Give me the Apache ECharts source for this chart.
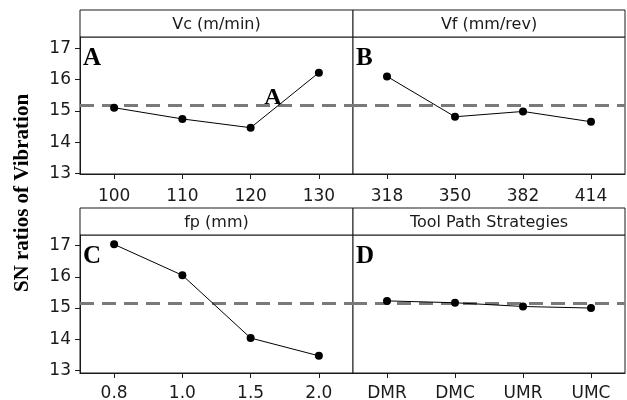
<!DOCTYPE html>
<html>
<head>
<meta charset="utf-8">
<script src="https://cdn.jsdelivr.net/npm/echarts@6/dist/echarts.min.js"></script>
<style>html,body{margin:0;padding:0;background:#fff}#c{width:627px;height:400px}</style>
</head>
<body>
<div id="c"></div>
<script>
// ---- data ----
const panelTitles = ['Vc (m/min)', 'Vf (mm/rev)', 'fp (mm)', 'Tool Path Strategies'];
const panelLetters = ['A', 'B', 'C', 'D'];
const vcLevels = ['100', '110', '120', '130'];
const vfLevels = ['318', '350', '382', '414'];
const fpLevels = ['0.8', '1.0', '1.5', '2.0'];
const tpsLevels = ['DMR', 'DMC', 'UMR', 'UMC'];
const snVc = [15.10, 14.74, 14.46, 16.22];
const snVf = [16.10, 14.81, 14.98, 14.65];
const snFp = [17.04, 16.05, 14.04, 13.47];
const snTps = [15.23, 15.17, 15.05, 15.00];
const overallMean = 15.17;
const yTicks = [13, 14, 15, 16, 17];
const yAxisTitle = 'SN ratios of Vibration';
const extraLabel = 'A';

// ---- layout ----
const FONT = 'DejaVu Sans';
const SERIF = 'Liberation Serif';
const INK = '#1a1a1a';
const cols = [{left: 80, width: 273}, {left: 353, width: 272}];
const rows = [{boxTop: 10, top: 37, height: 137, min: 12.98, max: 17.36, labelMargin: 14},
              {boxTop: 208, top: 235, height: 138, min: 12.92, max: 17.34, labelMargin: 12}];
const levels = [vcLevels, vfLevels, fpLevels, tpsLevels];
const values = [snVc, snVf, snFp, snTps];

const grids = [], xAxes = [], yAxes = [], series = [], graphics = [];
for (let i = 0; i < 4; i++) {
  const c = cols[i % 2], r = rows[Math.floor(i / 2)];
  grids.push({left: c.left, top: r.top, width: c.width, height: r.height,
    containLabel: false, outerBoundsMode: 'none',
    show: true, borderColor: INK, borderWidth: 1, backgroundColor: '#fff'});
  xAxes.push({type: 'category', gridIndex: i, data: levels[i], boundaryGap: true,
    axisLine: {show: true, lineStyle: {color: INK, width: 1}},
    axisTick: {show: true, alignWithLabel: true, length: 5, lineStyle: {color: INK}},
    axisLabel: {color: INK, fontFamily: FONT, fontSize: 17, margin: r.labelMargin},
    splitLine: {show: false}});
  const isLeft = i % 2 === 0;
  yAxes.push({type: 'value', gridIndex: i, min: r.min, max: r.max,
    axisLine: {show: isLeft, lineStyle: {color: INK, width: 1}},
    axisTick: {show: isLeft, length: 5, customValues: yTicks, lineStyle: {color: INK}},
    axisLabel: {show: isLeft, customValues: yTicks, color: INK, fontFamily: FONT, fontSize: 17, margin: 9},
    splitLine: {show: false}});
  series.push({type: 'line', xAxisIndex: i, yAxisIndex: i, data: values[i],
    symbol: 'circle', symbolSize: 8, z: 3,
    itemStyle: {color: '#000'}, lineStyle: {color: '#000', width: 1},
    animation: false,
    markLine: {silent: true, symbol: 'none', z: 2, label: {show: false},
      lineStyle: {color: '#7a7a7a', width: 3, type: [14, 8]},
      data: [{yAxis: overallMean}]}});
  // header cell
  graphics.push({type: 'rect', silent: true,
    shape: {x: c.left, y: r.boxTop, width: c.width, height: r.top - r.boxTop},
    style: {fill: '#fff', stroke: INK, lineWidth: 1}});
  graphics.push({type: 'text', silent: true, x: c.left + c.width / 2, y: (r.boxTop + r.top) / 2 + 1,
    style: {text: panelTitles[i], fill: INK, font: '16px "' + FONT + '"', textAlign: 'center', textVerticalAlign: 'middle'}});
  // panel letter
  graphics.push({type: 'text', silent: true, x: c.left + 3, y: r.top + 9,
    style: {text: panelLetters[i], fill: '#000', font: 'bold 25px "' + SERIF + '"', textAlign: 'left', textVerticalAlign: 'top'}});
}
// extra annotation letter in panel A
graphics.push({type: 'text', silent: true, x: 273, y: 98,
  style: {text: extraLabel, fill: '#000', font: 'bold 24px "' + SERIF + '"', textAlign: 'center', textVerticalAlign: 'middle'}});
// shared y-axis title
graphics.push({type: 'text', silent: true, x: 23, y: 193, rotation: Math.PI / 2,
  style: {text: yAxisTitle, fill: '#000', font: 'bold 21px "' + SERIF + '"', textAlign: 'center', textVerticalAlign: 'middle'}});

const chart = echarts.init(document.getElementById('c'), null, {renderer: 'canvas'});
chart.setOption({
  animation: false,
  backgroundColor: '#fff',
  grid: grids, xAxis: xAxes, yAxis: yAxes, series: series,
  graphic: graphics
});
</script>
</body>
</html>
